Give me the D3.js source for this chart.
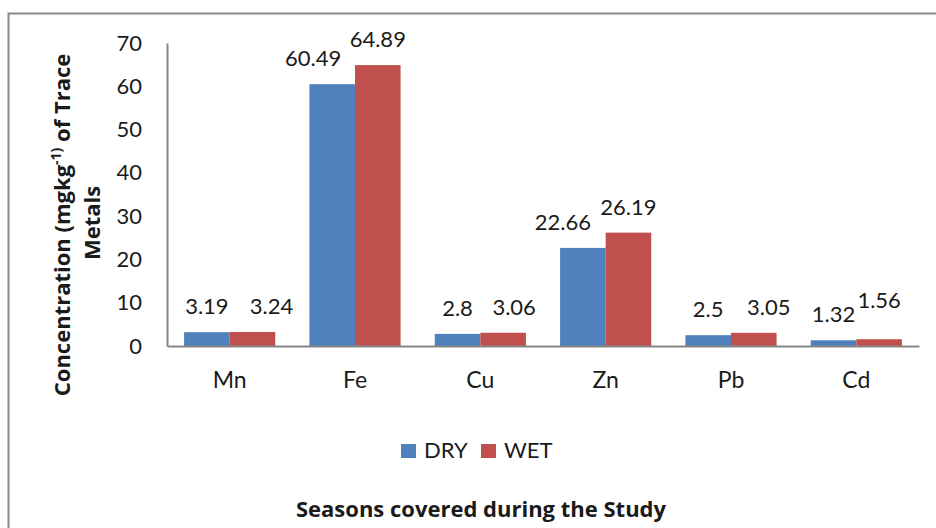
<!DOCTYPE html>
<html>
<head>
<meta charset="utf-8">
<script src="https://cdn.jsdelivr.net/npm/d3@7/dist/d3.min.js"></script>
<style>
  html, body { margin: 0; padding: 0; background: #fff; }
  svg { display: block; font-family: Lato, "Open Sans", sans-serif; }
</style>
</head>
<body>
<svg id="chart" width="936" height="528"></svg>
<script>
// Trace metal concentrations by season
const metals = ["Mn", "Fe", "Cu", "Zn", "Pb", "Cd"];
const seasons = ["DRY", "WET"];
const dryValues = [3.19, 60.49, 2.8, 22.66, 2.5, 1.32];
const wetValues = [3.24, 64.89, 3.06, 26.19, 3.05, 1.56];
const yTicks = [0, 10, 20, 30, 40, 50, 60, 70];
const seasonColors = ["#4F81BD", "#C0504D"];

// Hand-placed label nudges (dx, dy) so neighbouring labels don't collide
const labelNudge = {
  "DRY": [[0, 0], [-19, 0], [0, 0], [-20, 0], [0, 0], [0, 0]],
  "WET": [[19, 0], [0, 0], [11, 0], [0, 0], [15, 0], [0, -13]]
};

const seriesValues = { "DRY": dryValues, "WET": wetValues };
const rows = metals.map((m, i) => ({ metal: m, DRY: dryValues[i], WET: wetValues[i] }));

const svg = d3.select("#chart");
const textColor = "#1a1a1a";
const axisColor = "#868686";
const titleFont = "'Open Sans', Lato, sans-serif";

// Chart frame
svg.append("path")
  .attr("d", "M8.5,540 V13.5 H950")
  .attr("fill", "none")
  .attr("stroke", "#8a8a8a")
  .attr("stroke-width", 2);

const plot = { left: 167, right: 919, top: 43, bottom: 346 };

const x = d3.scaleBand().domain(metals).range([plot.left, plot.right]).padding(0);
const xInner = d3.scaleBand().domain(seasons).range([0, x.bandwidth()])
  .paddingInner(0).paddingOuter(0.375);
const y = d3.scaleLinear().domain([0, 70]).range([plot.bottom, plot.top]);

// Bars
const groups = svg.append("g").selectAll("g")
  .data(rows)
  .join("g")
  .attr("transform", d => `translate(${x(d.metal)},0)`);

groups.selectAll("rect")
  .data(d => seasons.map((s, k) => ({ season: s, value: d[s], k })))
  .join("rect")
  .attr("x", d => xInner(d.season))
  .attr("y", d => y(d.value))
  .attr("width", xInner.bandwidth())
  .attr("height", d => y(0) - y(d.value))
  .attr("fill", d => seasonColors[d.k]);

// Value labels
seasons.forEach(s => {
  svg.append("g").selectAll("text")
    .data(seriesValues[s].map((v, i) => ({ v, i })))
    .join("text")
    .attr("x", d => x(metals[d.i]) + xInner(s) + xInner.bandwidth() / 2 + labelNudge[s][d.i][0])
    .attr("y", d => y(d.v) - 18 + labelNudge[s][d.i][1])
    .attr("text-anchor", "middle")
    .attr("font-size", 22)
    .attr("fill", textColor)
    .text(d => String(d.v));
});

// Y axis
const yAxis = svg.append("g")
  .attr("transform", `translate(${plot.left},0)`)
  .call(d3.axisLeft(y).tickValues(yTicks).tickSize(0).tickPadding(25));
yAxis.select(".domain").attr("stroke", axisColor).attr("stroke-width", 2);
yAxis.selectAll("text").attr("font-size", 22).attr("fill", textColor)
  .attr("font-family", "Lato, sans-serif");

// X axis
const xAxis = svg.append("g")
  .attr("transform", `translate(0,${plot.bottom})`)
  .call(d3.axisBottom(x).tickSize(0).tickPadding(26));
xAxis.select(".domain").attr("stroke", axisColor).attr("stroke-width", 2);
xAxis.selectAll("text").attr("font-size", 23).attr("fill", textColor)
  .attr("font-family", "Lato, sans-serif");

// Y axis title (two lines, rotated)
const yTitle = svg.append("text")
  .attr("transform", "translate(70,225) rotate(-90)")
  .attr("text-anchor", "middle")
  .attr("font-family", titleFont)
  .attr("font-size", 22)
  .attr("font-weight", "bold")
  .attr("fill", textColor);
yTitle.append("tspan").text("Concentration (mgkg");
yTitle.append("tspan").attr("baseline-shift", "super").attr("font-size", 14).text("-1)");
yTitle.append("tspan").text(" of Trace");
svg.append("text")
  .attr("transform", "translate(100,223) rotate(-90)")
  .attr("text-anchor", "middle")
  .attr("font-family", titleFont)
  .attr("font-size", 22)
  .attr("font-weight", "bold")
  .attr("fill", textColor)
  .text("Metals");

// Legend
const legend = svg.append("g").attr("transform", "translate(401,444)");
const legendItems = legend.selectAll("g")
  .data(seasons)
  .join("g")
  .attr("transform", (d, i) => `translate(${i * 80},0)`);
legendItems.append("rect")
  .attr("width", 15).attr("height", 14)
  .attr("fill", (d, i) => seasonColors[i]);
legendItems.append("text")
  .attr("x", 23).attr("y", 14)
  .attr("font-size", 22)
  .attr("fill", textColor)
  .text(d => d);

// X axis title
svg.append("text")
  .attr("x", 481).attr("y", 517)
  .attr("text-anchor", "middle")
  .attr("font-family", titleFont)
  .attr("font-size", 22)
  .attr("font-weight", "bold")
  .attr("fill", textColor)
  .text("Seasons covered during the Study");
</script>
</body>
</html>
